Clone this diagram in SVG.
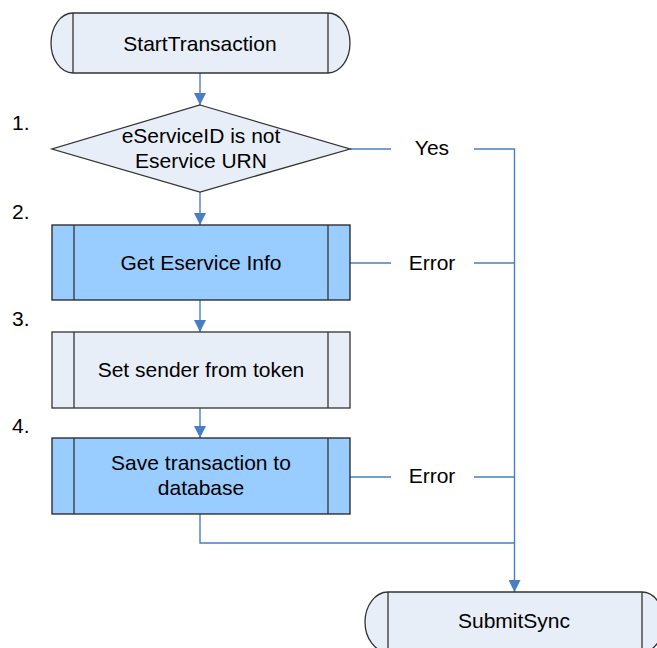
<svg xmlns="http://www.w3.org/2000/svg" width="657" height="648" viewBox="0 0 657 648">
<style>
.t{font-family:"Liberation Sans",Arial,sans-serif;font-size:21px;fill:#000;text-anchor:middle}
.n{font-family:"Liberation Sans",Arial,sans-serif;font-size:21px;fill:#000}
.light{fill:#E8EEF7;stroke:#333333;stroke-width:1.3}
.blue{fill:#99CCFF;stroke:#222222;stroke-width:1.3}
.inner{fill:none;stroke:#333333;stroke-width:1.3}
.c{fill:none;stroke:#4A7EC4;stroke-width:1.4}
</style>
<defs>
<marker id="ah" viewBox="0 0 12 12" refX="12" refY="6" markerWidth="12" markerHeight="12" markerUnits="userSpaceOnUse" orient="auto">
<path d="M0,0 L12,6 L0,12 Z" fill="#4A7EC4"/>
</marker>
</defs>
<rect width="657" height="648" fill="#fff"/>
<g id="connectors">
<line class="c" x1="200" y1="73" x2="200" y2="105" marker-end="url(#ah)"/>
<line class="c" x1="200" y1="192" x2="200" y2="225" marker-end="url(#ah)"/>
<line class="c" x1="200" y1="300" x2="200" y2="332" marker-end="url(#ah)"/>
<line class="c" x1="200" y1="408" x2="200" y2="438" marker-end="url(#ah)"/>
<polyline class="c" points="200,514 200,543 514.5,543"/>
<line class="c" x1="350" y1="149" x2="391" y2="149"/>
<polyline class="c" points="474,149 514.5,149 514.5,592" marker-end="url(#ah)"/>
<line class="c" x1="350" y1="263" x2="391" y2="263"/>
<line class="c" x1="474" y1="263" x2="514.5" y2="263"/>
<line class="c" x1="350" y1="477" x2="391" y2="477"/>
<line class="c" x1="474" y1="477" x2="514.5" y2="477"/>
<text class="t" x="432" y="155">Yes</text>
<text class="t" x="432" y="270">Error</text>
<text class="t" x="432" y="483">Error</text>
</g>
<g id="start">
<path class="light" d="M73,13 H328 A22 30 0 0 1 328,73 H73 A22 30 0 0 1 73,13 Z"/>
<line class="inner" x1="73" y1="13" x2="73" y2="73"/>
<line class="inner" x1="328" y1="13" x2="328" y2="73"/>
<text class="t" x="200" y="50.5">StartTransaction</text>
</g>
<g id="step1">
<text class="n" x="12" y="130">1.</text>
<polygon class="light" points="200,105 350,149 200,192 52,149"/>
<text class="t" x="201" y="143">eServiceID is not</text>
<text class="t" x="201" y="168">Eservice URN</text>
</g>
<g id="step2">
<text class="n" x="12" y="219">2.</text>
<rect class="blue" x="52" y="225" width="298" height="75"/>
<line class="inner" x1="74" y1="225" x2="74" y2="300"/>
<line class="inner" x1="328" y1="225" x2="328" y2="300"/>
<text class="t" x="201" y="270">Get Eservice Info</text>
</g>
<g id="step3">
<text class="n" x="12" y="326">3.</text>
<rect class="light" x="52" y="332" width="298" height="76"/>
<line class="inner" x1="74" y1="332" x2="74" y2="408"/>
<line class="inner" x1="328" y1="332" x2="328" y2="408"/>
<text class="t" x="201" y="377">Set sender from token</text>
</g>
<g id="step4">
<text class="n" x="12" y="433">4.</text>
<rect class="blue" x="52" y="438" width="298" height="76"/>
<line class="inner" x1="74" y1="438" x2="74" y2="514"/>
<line class="inner" x1="328" y1="438" x2="328" y2="514"/>
<text class="t" x="201" y="470">Save transaction to</text>
<text class="t" x="201" y="495">database</text>
</g>
<g id="submit">
<path class="light" d="M388,592 H642 A22 30 0 0 1 642,652 H388 A23 30 0 0 1 388,592 Z"/>
<line class="inner" x1="388" y1="592" x2="388" y2="652"/>
<line class="inner" x1="642" y1="592" x2="642" y2="652"/>
<text class="t" x="514" y="628">SubmitSync</text>
</g>
</svg>
